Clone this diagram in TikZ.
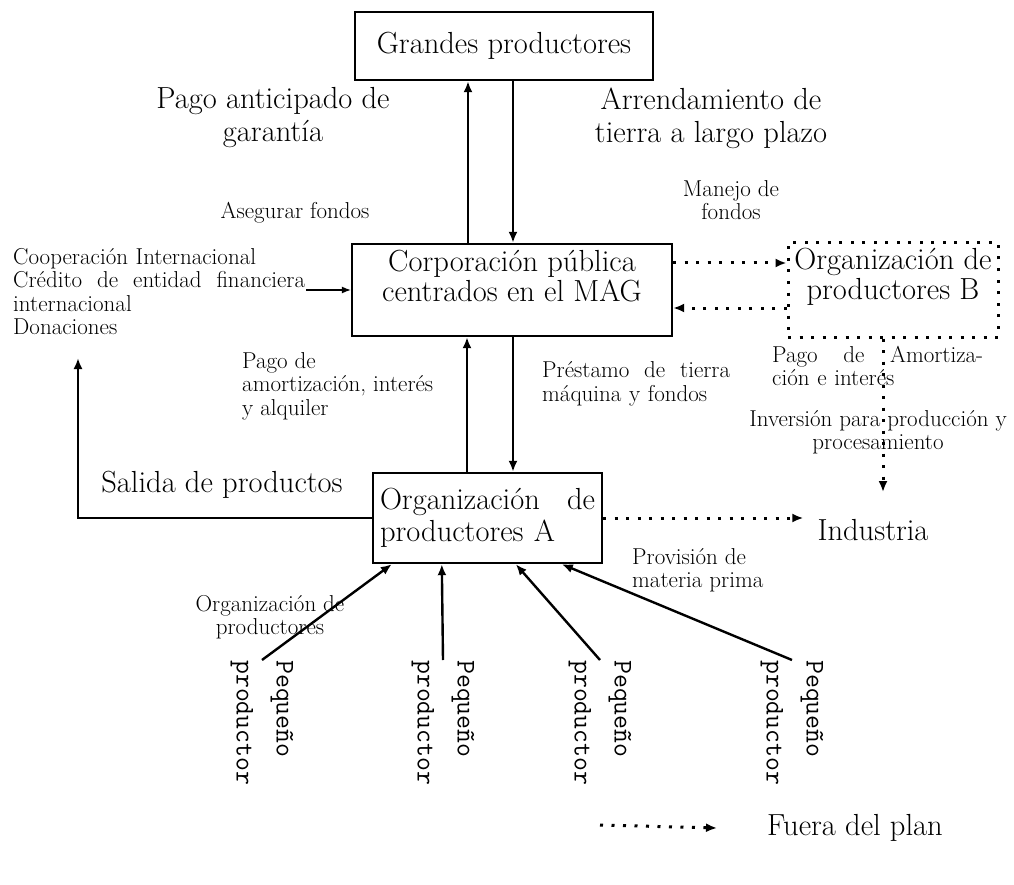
\documentclass[tikz,border=0pt]{standalone}
\usepackage{tikz}
\usetikzlibrary{arrows.meta, positioning, calc}

\begin{document}
\begin{tikzpicture}[x=1pt, y=-1pt,
  box/.style={draw=black, line width=2.4pt, font=\fontsize{30.5}{32}\selectfont},
  dotbox/.style={draw=black, line width=3pt, dash pattern=on 3pt off 8.5pt},
  big/.style={font=\fontsize{30.5}{33}\selectfont, inner sep=0pt},
  small/.style={font=\fontsize{23}{23.5}\selectfont, inner sep=0pt},
  prod/.style={rotate=-90, anchor=west, align=left, inner sep=0pt, font=\ttfamily\fontsize{27}{40}\selectfont},
  arr/.style={-{Latex[length=11pt, width=9pt]}, line width=2.4pt},
  thinarr/.style={-{Latex[length=9pt, width=7pt]}, line width=1.2pt},
  dotarr/.style={-{Latex[length=11pt, width=9pt]}, line width=3pt, dash pattern=on 3pt off 8.5pt}
]
  \useasboundingbox (0,0) rectangle (1014,885);

  % boxes
  \node[box, minimum width=298, minimum height=68] (grandes) at (504,46) {Grandes productores};
  \node[box, minimum width=320, minimum height=92] (corp) at (512,290) {};
  \node[big, align=center, font=\fontsize{30.5}{30}\selectfont] (corptxt) at (512,276) {Corporación pública\\centrados en el MAG};
  \node[dotbox, minimum width=210, minimum height=94] (orgB) at (893,290) {};
  \node[big, align=center, font=\fontsize{30.5}{30}\selectfont] (orgBtxt) at (893,277) {Organización de\\productores B};
  \node[box, minimum width=229, minimum height=90, text width=215, align=left, inner xsep=7] (orgA) at (487.5,518) {Organización\hfill de\\productores A};
  \node[big, inner xsep=14, inner ysep=27] (industria) at (873,530) {Industria};

  % labels
  \node[big, align=center] (anticipado) at (273,118) {Pago anticipado de\\garantía};
  \node[big, align=center] (arrend) at (711,118) {Arrendamiento de\\tierra a largo plazo};
  \node[small] (asegurar) at (295,213) {Asegurar fondos};
  \node[small, align=center] (manejo) at (731,200) {Manejo de\\fondos};
  \node[small, align=left, anchor=north west, text width=292] (coop) at (13,248) {Cooperación Internacional\\Crédito\hfill de\hfill entidad\hfill financiera\\internacional\\Donaciones};
  \node[small, align=left, anchor=west] (amort) at (242,386) {Pago de\\amortización, interés\\y alquiler};
  \node[small, align=left, anchor=west, text width=188] (prestamo) at (542,384) {Préstamo\hfill de\hfill tierra\\máquina y fondos};
  \node[small, align=left, anchor=west, text width=211] (amortB) at (772,366) {Pago\hfill de\hfill Amortiza-\\ción e interés};
  \node[small, align=center] (inversion) at (878,432) {Inversión para producción y\\procesamiento};
  \node[big] (salida) at (222,485) {Salida de productos};
  \node[small, align=left, anchor=west] (provision) at (632,570) {Provisión de\\materia prima};
  \node[small, align=center] (orgprod) at (270,617) {Organización de\\productores};

  % main flows
  \draw[arr] ([xshift=-44]corp.north) -- ([xshift=-36]grandes.south);
  \draw[arr] ([xshift=9]grandes.south) -- ([xshift=1]corp.north);
  \draw[arr] ([xshift=-20.5]orgA.north) -- ([xshift=-45]corp.south);
  \draw[arr] ([xshift=1]corp.south) -- ([xshift=25.5]orgA.north);

  \coordinate (credit) at (306,290);
  \draw[thinarr] (credit) -- (credit -| corp.west);

  \coordinate (exit) at (78,358);
  \draw[arr] (orgA.west) -| (exit);

  % outside the plan
  \draw[dotarr] ([yshift=27]corp.east) -- ([yshift=27]orgB.west);
  \draw[dotarr] ([yshift=-18]orgB.west) -- ([yshift=-18]corp.east);
  \draw[dotarr] ([xshift=-10]orgB.south) -- ([xshift=10]industria.north);
  \draw[dotarr] (orgA.east) -- ([yshift=12]industria.west);

  % small producers
  \foreach \i/\x/\tip in {1/262/20, 2/443/70, 3/600/144, 4/792/190}{
    \node[prod] (p\i) at (\x,660) {Pequeño\\productor};
    \draw[arr] (p\i.west) -- ([xshift=\tip]orgA.south west);
  }

  % legend
  \node[big, anchor=west] (fuera) at (767,828) {Fuera del plan};
  \coordinate (legend) at (600,825);
  \draw[dotarr] (legend) -- ([xshift=-50]fuera.west);
\end{tikzpicture}
\end{document}
